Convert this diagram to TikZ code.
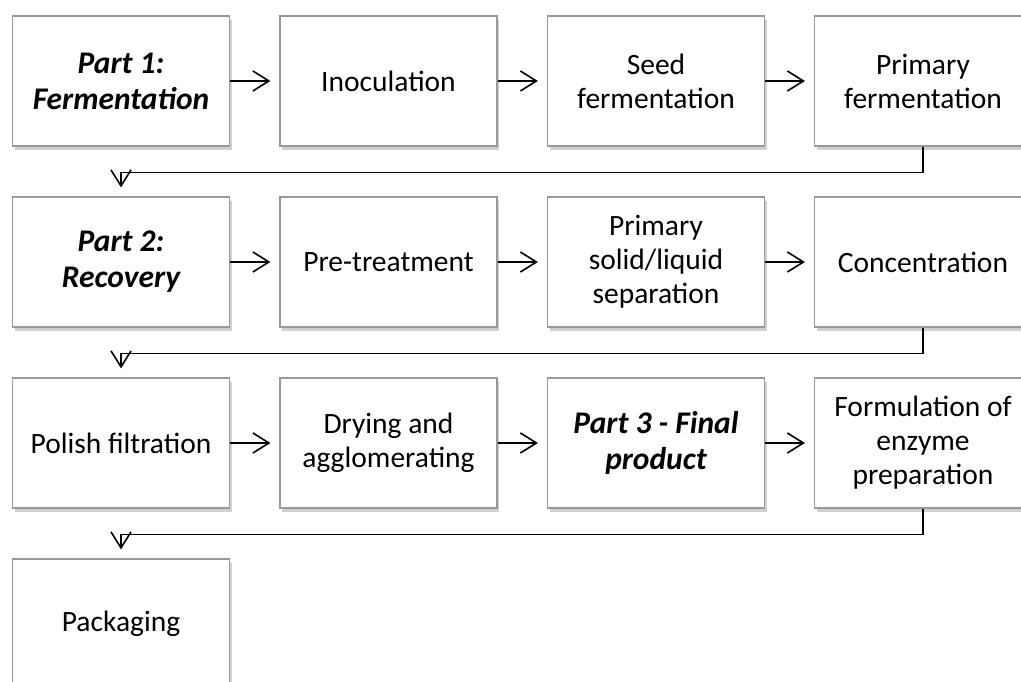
\documentclass[tikz,border=0pt]{standalone}
\usepackage{fontspec}
\setmainfont{Carlito}
\usetikzlibrary{arrows.meta,shadows,calc}
\tikzset{
  box/.style={draw=black!40, line width=1.2pt, fill=white, minimum width=217pt, minimum height=130pt,
    inner sep=0pt, align=center, font=\fontsize{29.5}{34}\selectfont,
    drop shadow={shadow xshift=2pt, shadow yshift=-4pt, fill=black!30, opacity=0.6}},
  partbox/.style={box, font=\fontsize{31.5}{36}\selectfont\bfseries\itshape},
  flow/.style={line width=1.6pt, -{Straight Barb[length=16pt,width=20pt,line width=1.6pt]}},
}
\begin{document}
\begin{tikzpicture}[x=1pt,y=1pt]
\useasboundingbox (0,0) rectangle (1021,681);
\clip (0,0) rectangle (1021,681);
\fill[white] (0,0) rectangle (1021,681);
% rows: y = 600, 419, 238, 57 ; cols: x = 121, 388.5, 656, 923
\node[partbox] (a1) at (121,600) {Part 1:\\Fermentation};
\node[box] (a2) at (388.5,600) {Inoculation};
\node[box] (a3) at (656,600) {Seed\\fermentation};
\node[box] (a4) at (923,600) {Primary\\fermentation};
\node[partbox] (b1) at (121,419) {Part 2:\\Recovery};
\node[box] (b2) at (388.5,419) {Pre-treatment};
\node[box] (b3) at (656,419) {Primary\\solid/liquid\\separation};
\node[box] (b4) at (923,419) {Concentration};
\node[box] (c1) at (121,238) {Polish filtration};
\node[box] (c2) at (388.5,238) {Drying and\\agglomerating};
\node[partbox] (c3) at (656,238) {Part 3 - Final\\product};
\node[box] (c4) at (923,238) {Formulation of\\enzyme\\preparation};
\node[box] (d1) at (121,57) {Packaging};
% horizontal arrows
\foreach \r in {a,b,c}{
  \draw[flow] (\r1.east) -- ([xshift=-9pt]\r2.west);
  \draw[flow] (\r2.east) -- ([xshift=-9pt]\r3.west);
  \draw[flow] (\r3.east) -- ([xshift=-9pt]\r4.west);
}
% row connectors
\draw[flow] (a4.south) -- ++(0,-26) -| ([yshift=9pt]b1.north);
\draw[flow] (b4.south) -- ++(0,-26) -| ([yshift=9pt]c1.north);
\draw[flow] (c4.south) -- ++(0,-26) -| ([yshift=9pt]d1.north);
\end{tikzpicture}
\end{document}
